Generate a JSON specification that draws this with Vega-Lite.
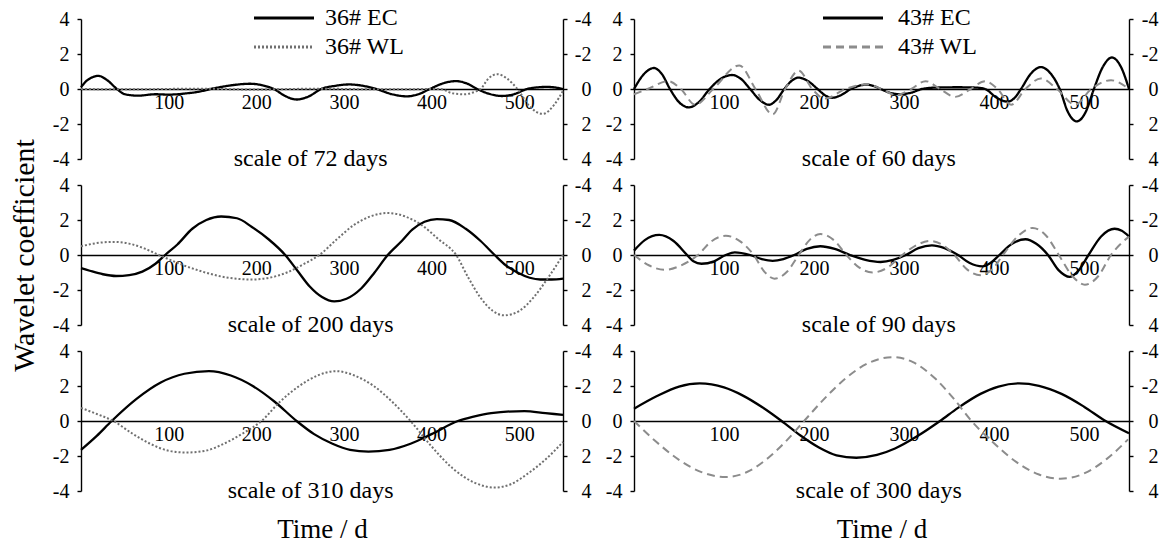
{
"$schema":"https://vega.github.io/schema/vega-lite/v6.json",
"background":"white",
"padding":{"left":9,"top":6,"right":2,"bottom":2},
"config":{
 "font":"Liberation Serif",
 "view":{"stroke":null},
 "axis":{"labelFont":"Liberation Serif","labelFontSize":20,"labelColor":"#000","domainColor":"#000","tickColor":"#000","domainWidth":1.4,"tickWidth":1.4,"grid":false,"titleFont":"Liberation Serif","titleFontWeight":"normal","titleColor":"#000"},
 "axisY":{"labelExpr":"datum.value < 0 ? '-' + abs(datum.value) : '' + datum.value"},
 "legend":{"labelFont":"Liberation Serif","labelFontSize":24,"labelColor":"#000","symbolType":"M-3,0H3","symbolSize":400,"symbolStrokeWidth":3,"rowPadding":5,"padding":0,"labelOffset":29},
 "text":{"font":"Liberation Serif","color":"#000"}
},
"datasets":{"w":[
{"p":"A","s":"E","t":0,"v":0.1},{"p":"A","s":"E","t":6,"v":0.45},{"p":"A","s":"E","t":12,"v":0.65},{"p":"A","s":"E","t":20,"v":0.75},{"p":"A","s":"E","t":30,"v":0.5},{"p":"A","s":"E","t":41,"v":0},{"p":"A","s":"E","t":50,"v":-0.3},{"p":"A","s":"E","t":65,"v":-0.38},{"p":"A","s":"E","t":85,"v":-0.3},{"p":"A","s":"E","t":100,"v":-0.32},{"p":"A","s":"E","t":120,"v":-0.25},{"p":"A","s":"E","t":135,"v":-0.15},{"p":"A","s":"E","t":148,"v":0},{"p":"A","s":"E","t":170,"v":0.2},{"p":"A","s":"E","t":193,"v":0.3},{"p":"A","s":"E","t":208,"v":0.2},{"p":"A","s":"E","t":220,"v":0},{"p":"A","s":"E","t":233,"v":-0.4},{"p":"A","s":"E","t":246,"v":-0.6},{"p":"A","s":"E","t":260,"v":-0.42},{"p":"A","s":"E","t":274,"v":0},{"p":"A","s":"E","t":290,"v":0.18},{"p":"A","s":"E","t":306,"v":0.26},{"p":"A","s":"E","t":322,"v":0.18},{"p":"A","s":"E","t":337,"v":0},{"p":"A","s":"E","t":355,"v":-0.3},{"p":"A","s":"E","t":372,"v":-0.42},{"p":"A","s":"E","t":385,"v":-0.3},{"p":"A","s":"E","t":398,"v":0},{"p":"A","s":"E","t":413,"v":0.32},{"p":"A","s":"E","t":428,"v":0.45},{"p":"A","s":"E","t":440,"v":0.32},{"p":"A","s":"E","t":452,"v":0},{"p":"A","s":"E","t":466,"v":-0.28},{"p":"A","s":"E","t":480,"v":-0.4},{"p":"A","s":"E","t":495,"v":-0.28},{"p":"A","s":"E","t":509,"v":0},{"p":"A","s":"E","t":520,"v":0.09},{"p":"A","s":"E","t":532,"v":0.12},{"p":"A","s":"E","t":542,"v":0.08},{"p":"A","s":"E","t":550,"v":0},
{"p":"A","s":"W","t":0,"v":0},{"p":"A","s":"W","t":60,"v":0.02},{"p":"A","s":"W","t":130,"v":-0.02},{"p":"A","s":"W","t":200,"v":0.03},{"p":"A","s":"W","t":270,"v":-0.02},{"p":"A","s":"W","t":340,"v":0.02},{"p":"A","s":"W","t":410,"v":0},{"p":"A","s":"W","t":424,"v":0.25},{"p":"A","s":"W","t":437,"v":0.3},{"p":"A","s":"W","t":450,"v":0.15},{"p":"A","s":"W","t":456,"v":0},{"p":"A","s":"W","t":465,"v":-0.6},{"p":"A","s":"W","t":475,"v":-0.85},{"p":"A","s":"W","t":486,"v":-0.6},{"p":"A","s":"W","t":498,"v":0},{"p":"A","s":"W","t":512,"v":1.0},{"p":"A","s":"W","t":527,"v":1.42},{"p":"A","s":"W","t":540,"v":0.9},{"p":"A","s":"W","t":550,"v":0.1},
{"p":"B","s":"E","t":0,"v":-0.75},{"p":"B","s":"E","t":10,"v":-0.9},{"p":"B","s":"E","t":25,"v":-1.1},{"p":"B","s":"E","t":40,"v":-1.2},{"p":"B","s":"E","t":55,"v":-1.15},{"p":"B","s":"E","t":70,"v":-0.95},{"p":"B","s":"E","t":85,"v":-0.5},{"p":"B","s":"E","t":96,"v":0},{"p":"B","s":"E","t":110,"v":0.6},{"p":"B","s":"E","t":127,"v":1.5},{"p":"B","s":"E","t":143,"v":2.0},{"p":"B","s":"E","t":160,"v":2.2},{"p":"B","s":"E","t":178,"v":2.1},{"p":"B","s":"E","t":195,"v":1.6},{"p":"B","s":"E","t":214,"v":0.9},{"p":"B","s":"E","t":233,"v":0},{"p":"B","s":"E","t":247,"v":-0.9},{"p":"B","s":"E","t":261,"v":-1.8},{"p":"B","s":"E","t":275,"v":-2.4},{"p":"B","s":"E","t":289,"v":-2.65},{"p":"B","s":"E","t":303,"v":-2.5},{"p":"B","s":"E","t":320,"v":-1.9},{"p":"B","s":"E","t":335,"v":-1.0},{"p":"B","s":"E","t":350,"v":0},{"p":"B","s":"E","t":366,"v":0.8},{"p":"B","s":"E","t":378,"v":1.45},{"p":"B","s":"E","t":392,"v":1.9},{"p":"B","s":"E","t":406,"v":2.05},{"p":"B","s":"E","t":420,"v":2.0},{"p":"B","s":"E","t":439,"v":1.5},{"p":"B","s":"E","t":456,"v":0.8},{"p":"B","s":"E","t":472,"v":0},{"p":"B","s":"E","t":485,"v":-0.6},{"p":"B","s":"E","t":498,"v":-1.0},{"p":"B","s":"E","t":512,"v":-1.3},{"p":"B","s":"E","t":524,"v":-1.4},{"p":"B","s":"E","t":537,"v":-1.4},{"p":"B","s":"E","t":550,"v":-1.35},
{"p":"B","s":"W","t":0,"v":-0.5},{"p":"B","s":"W","t":18,"v":-0.68},{"p":"B","s":"W","t":37,"v":-0.75},{"p":"B","s":"W","t":55,"v":-0.65},{"p":"B","s":"W","t":72,"v":-0.38},{"p":"B","s":"W","t":89,"v":0},{"p":"B","s":"W","t":115,"v":0.55},{"p":"B","s":"W","t":142,"v":1.0},{"p":"B","s":"W","t":168,"v":1.3},{"p":"B","s":"W","t":195,"v":1.4},{"p":"B","s":"W","t":215,"v":1.3},{"p":"B","s":"W","t":235,"v":1.0},{"p":"B","s":"W","t":253,"v":0.55},{"p":"B","s":"W","t":272,"v":0},{"p":"B","s":"W","t":292,"v":-0.9},{"p":"B","s":"W","t":311,"v":-1.7},{"p":"B","s":"W","t":330,"v":-2.2},{"p":"B","s":"W","t":350,"v":-2.4},{"p":"B","s":"W","t":370,"v":-2.2},{"p":"B","s":"W","t":389,"v":-1.7},{"p":"B","s":"W","t":408,"v":-0.9},{"p":"B","s":"W","t":428,"v":0},{"p":"B","s":"W","t":442,"v":1.3},{"p":"B","s":"W","t":456,"v":2.45},{"p":"B","s":"W","t":470,"v":3.2},{"p":"B","s":"W","t":483,"v":3.45},{"p":"B","s":"W","t":500,"v":3.2},{"p":"B","s":"W","t":516,"v":2.45},{"p":"B","s":"W","t":533,"v":1.3},{"p":"B","s":"W","t":550,"v":0},
{"p":"C","s":"E","t":0,"v":-1.65},{"p":"C","s":"E","t":18,"v":-0.85},{"p":"C","s":"E","t":35,"v":0},{"p":"C","s":"E","t":63,"v":1.25},{"p":"C","s":"E","t":91,"v":2.2},{"p":"C","s":"E","t":118,"v":2.7},{"p":"C","s":"E","t":146,"v":2.85},{"p":"C","s":"E","t":171,"v":2.6},{"p":"C","s":"E","t":196,"v":2.0},{"p":"C","s":"E","t":221,"v":1.1},{"p":"C","s":"E","t":246,"v":0},{"p":"C","s":"E","t":266,"v":-0.75},{"p":"C","s":"E","t":287,"v":-1.3},{"p":"C","s":"E","t":307,"v":-1.65},{"p":"C","s":"E","t":328,"v":-1.75},{"p":"C","s":"E","t":352,"v":-1.65},{"p":"C","s":"E","t":376,"v":-1.3},{"p":"C","s":"E","t":400,"v":-0.75},{"p":"C","s":"E","t":430,"v":0},{"p":"C","s":"E","t":448,"v":0.25},{"p":"C","s":"E","t":468,"v":0.45},{"p":"C","s":"E","t":506,"v":0.57},{"p":"C","s":"E","t":530,"v":0.45},{"p":"C","s":"E","t":550,"v":0.35},
{"p":"C","s":"W","t":0,"v":-0.75},{"p":"C","s":"W","t":18,"v":-0.4},{"p":"C","s":"W","t":37,"v":0},{"p":"C","s":"W","t":58,"v":0.7},{"p":"C","s":"W","t":79,"v":1.3},{"p":"C","s":"W","t":100,"v":1.7},{"p":"C","s":"W","t":120,"v":1.8},{"p":"C","s":"W","t":142,"v":1.7},{"p":"C","s":"W","t":163,"v":1.3},{"p":"C","s":"W","t":185,"v":0.7},{"p":"C","s":"W","t":206,"v":0},{"p":"C","s":"W","t":227,"v":-1.1},{"p":"C","s":"W","t":249,"v":-2.0},{"p":"C","s":"W","t":270,"v":-2.6},{"p":"C","s":"W","t":291,"v":-2.85},{"p":"C","s":"W","t":312,"v":-2.6},{"p":"C","s":"W","t":334,"v":-2.0},{"p":"C","s":"W","t":355,"v":-1.1},{"p":"C","s":"W","t":376,"v":0},{"p":"C","s":"W","t":400,"v":1.45},{"p":"C","s":"W","t":424,"v":2.7},{"p":"C","s":"W","t":448,"v":3.5},{"p":"C","s":"W","t":472,"v":3.8},{"p":"C","s":"W","t":491,"v":3.6},{"p":"C","s":"W","t":510,"v":3.0},{"p":"C","s":"W","t":530,"v":2.2},{"p":"C","s":"W","t":550,"v":1.2},
{"p":"D","s":"E","t":0,"v":0},{"p":"D","s":"E","t":11,"v":0.85},{"p":"D","s":"E","t":22,"v":1.2},{"p":"D","s":"E","t":31,"v":0.85},{"p":"D","s":"E","t":40,"v":0},{"p":"D","s":"E","t":50,"v":-0.75},{"p":"D","s":"E","t":61,"v":-1.05},{"p":"D","s":"E","t":72,"v":-0.75},{"p":"D","s":"E","t":84,"v":0},{"p":"D","s":"E","t":96,"v":0.57},{"p":"D","s":"E","t":109,"v":0.8},{"p":"D","s":"E","t":119,"v":0.57},{"p":"D","s":"E","t":129,"v":0},{"p":"D","s":"E","t":140,"v":-0.64},{"p":"D","s":"E","t":150,"v":-0.9},{"p":"D","s":"E","t":158,"v":-0.64},{"p":"D","s":"E","t":167,"v":0},{"p":"D","s":"E","t":175,"v":0.46},{"p":"D","s":"E","t":183,"v":0.65},{"p":"D","s":"E","t":193,"v":0.46},{"p":"D","s":"E","t":204,"v":0},{"p":"D","s":"E","t":212,"v":-0.35},{"p":"D","s":"E","t":220,"v":-0.5},{"p":"D","s":"E","t":230,"v":-0.35},{"p":"D","s":"E","t":241,"v":0},{"p":"D","s":"E","t":250,"v":0.18},{"p":"D","s":"E","t":258,"v":0.25},{"p":"D","s":"E","t":266,"v":0.18},{"p":"D","s":"E","t":274,"v":0},{"p":"D","s":"E","t":284,"v":-0.21},{"p":"D","s":"E","t":295,"v":-0.3},{"p":"D","s":"E","t":308,"v":-0.21},{"p":"D","s":"E","t":320,"v":0},{"p":"D","s":"E","t":335,"v":0.08},{"p":"D","s":"E","t":360,"v":0.1},{"p":"D","s":"E","t":380,"v":0.08},{"p":"D","s":"E","t":390,"v":0},{"p":"D","s":"E","t":403,"v":-0.5},{"p":"D","s":"E","t":415,"v":-0.72},{"p":"D","s":"E","t":423,"v":-0.5},{"p":"D","s":"E","t":430,"v":0},{"p":"D","s":"E","t":441,"v":0.88},{"p":"D","s":"E","t":452,"v":1.25},{"p":"D","s":"E","t":463,"v":0.88},{"p":"D","s":"E","t":473,"v":0},{"p":"D","s":"E","t":482,"v":-1.3},{"p":"D","s":"E","t":492,"v":-1.85},{"p":"D","s":"E","t":502,"v":-1.3},{"p":"D","s":"E","t":511,"v":0},{"p":"D","s":"E","t":521,"v":1.27},{"p":"D","s":"E","t":531,"v":1.8},{"p":"D","s":"E","t":541,"v":1.27},{"p":"D","s":"E","t":550,"v":0},
{"p":"D","s":"W","t":0,"v":0.3},{"p":"D","s":"W","t":15,"v":0},{"p":"D","s":"W","t":38,"v":-0.45},{"p":"D","s":"W","t":52,"v":0},{"p":"D","s":"W","t":68,"v":0.9},{"p":"D","s":"W","t":88,"v":0},{"p":"D","s":"W","t":117,"v":-1.35},{"p":"D","s":"W","t":135,"v":0},{"p":"D","s":"W","t":154,"v":1.45},{"p":"D","s":"W","t":168,"v":0},{"p":"D","s":"W","t":183,"v":-1.05},{"p":"D","s":"W","t":198,"v":0},{"p":"D","s":"W","t":212,"v":0.55},{"p":"D","s":"W","t":235,"v":0},{"p":"D","s":"W","t":258,"v":-0.27},{"p":"D","s":"W","t":275,"v":0},{"p":"D","s":"W","t":291,"v":0.35},{"p":"D","s":"W","t":308,"v":0},{"p":"D","s":"W","t":324,"v":-0.45},{"p":"D","s":"W","t":340,"v":0},{"p":"D","s":"W","t":357,"v":0.45},{"p":"D","s":"W","t":374,"v":0},{"p":"D","s":"W","t":390,"v":-0.45},{"p":"D","s":"W","t":404,"v":0},{"p":"D","s":"W","t":419,"v":0.9},{"p":"D","s":"W","t":435,"v":0},{"p":"D","s":"W","t":452,"v":-0.6},{"p":"D","s":"W","t":470,"v":0},{"p":"D","s":"W","t":490,"v":0.9},{"p":"D","s":"W","t":508,"v":0},{"p":"D","s":"W","t":530,"v":-0.5},{"p":"D","s":"W","t":550,"v":0},
{"p":"E","s":"E","t":0,"v":0.25},{"p":"E","s":"E","t":12,"v":0.85},{"p":"E","s":"E","t":28,"v":1.15},{"p":"E","s":"E","t":44,"v":0.8},{"p":"E","s":"E","t":59,"v":0},{"p":"E","s":"E","t":66,"v":-0.36},{"p":"E","s":"E","t":75,"v":-0.5},{"p":"E","s":"E","t":89,"v":-0.36},{"p":"E","s":"E","t":102,"v":0},{"p":"E","s":"E","t":112,"v":0.15},{"p":"E","s":"E","t":129,"v":0},{"p":"E","s":"E","t":142,"v":-0.23},{"p":"E","s":"E","t":154,"v":-0.33},{"p":"E","s":"E","t":166,"v":-0.23},{"p":"E","s":"E","t":178,"v":0},{"p":"E","s":"E","t":192,"v":0.35},{"p":"E","s":"E","t":207,"v":0.5},{"p":"E","s":"E","t":223,"v":0.35},{"p":"E","s":"E","t":240,"v":0},{"p":"E","s":"E","t":257,"v":-0.28},{"p":"E","s":"E","t":274,"v":-0.4},{"p":"E","s":"E","t":288,"v":-0.28},{"p":"E","s":"E","t":302,"v":0},{"p":"E","s":"E","t":316,"v":0.39},{"p":"E","s":"E","t":331,"v":0.55},{"p":"E","s":"E","t":345,"v":0.39},{"p":"E","s":"E","t":360,"v":0},{"p":"E","s":"E","t":373,"v":-0.46},{"p":"E","s":"E","t":387,"v":-0.65},{"p":"E","s":"E","t":396,"v":-0.46},{"p":"E","s":"E","t":406,"v":0},{"p":"E","s":"E","t":420,"v":0.64},{"p":"E","s":"E","t":435,"v":0.9},{"p":"E","s":"E","t":447,"v":0.64},{"p":"E","s":"E","t":460,"v":0},{"p":"E","s":"E","t":472,"v":-0.88},{"p":"E","s":"E","t":484,"v":-1.25},{"p":"E","s":"E","t":494,"v":-0.88},{"p":"E","s":"E","t":505,"v":0},{"p":"E","s":"E","t":519,"v":1.06},{"p":"E","s":"E","t":534,"v":1.5},{"p":"E","s":"E","t":542,"v":1.38},{"p":"E","s":"E","t":550,"v":1.05},
{"p":"E","s":"W","t":0,"v":0},{"p":"E","s":"W","t":17,"v":0.6},{"p":"E","s":"W","t":34,"v":0.85},{"p":"E","s":"W","t":52,"v":0.6},{"p":"E","s":"W","t":71,"v":0},{"p":"E","s":"W","t":86,"v":-0.78},{"p":"E","s":"W","t":102,"v":-1.1},{"p":"E","s":"W","t":118,"v":-0.78},{"p":"E","s":"W","t":133,"v":0},{"p":"E","s":"W","t":145,"v":0.96},{"p":"E","s":"W","t":156,"v":1.35},{"p":"E","s":"W","t":170,"v":0.96},{"p":"E","s":"W","t":183,"v":0},{"p":"E","s":"W","t":195,"v":-0.85},{"p":"E","s":"W","t":207,"v":-1.2},{"p":"E","s":"W","t":222,"v":-0.85},{"p":"E","s":"W","t":236,"v":0},{"p":"E","s":"W","t":250,"v":0.71},{"p":"E","s":"W","t":265,"v":1.0},{"p":"E","s":"W","t":282,"v":0.71},{"p":"E","s":"W","t":298,"v":0},{"p":"E","s":"W","t":314,"v":-0.57},{"p":"E","s":"W","t":329,"v":-0.8},{"p":"E","s":"W","t":343,"v":-0.57},{"p":"E","s":"W","t":356,"v":0},{"p":"E","s":"W","t":370,"v":0.82},{"p":"E","s":"W","t":385,"v":1.15},{"p":"E","s":"W","t":398,"v":0.82},{"p":"E","s":"W","t":410,"v":0},{"p":"E","s":"W","t":427,"v":-1.1},{"p":"E","s":"W","t":443,"v":-1.55},{"p":"E","s":"W","t":458,"v":-1.1},{"p":"E","s":"W","t":472,"v":0},{"p":"E","s":"W","t":487,"v":1.2},{"p":"E","s":"W","t":501,"v":1.7},{"p":"E","s":"W","t":516,"v":1.2},{"p":"E","s":"W","t":530,"v":0},{"p":"E","s":"W","t":540,"v":-0.6},{"p":"E","s":"W","t":550,"v":-1.05},
{"p":"F","s":"E","t":0,"v":0.7},{"p":"F","s":"E","t":25,"v":1.41},{"p":"F","s":"E","t":50,"v":1.97},{"p":"F","s":"E","t":73,"v":2.15},{"p":"F","s":"E","t":100,"v":1.92},{"p":"F","s":"E","t":120,"v":1.48},{"p":"F","s":"E","t":143,"v":0.77},{"p":"F","s":"E","t":164,"v":0},{"p":"F","s":"E","t":185,"v":-0.83},{"p":"F","s":"E","t":205,"v":-1.5},{"p":"F","s":"E","t":225,"v":-1.96},{"p":"F","s":"E","t":247,"v":-2.1},{"p":"F","s":"E","t":270,"v":-1.94},{"p":"F","s":"E","t":290,"v":-1.57},{"p":"F","s":"E","t":315,"v":-0.86},{"p":"F","s":"E","t":340,"v":0},{"p":"F","s":"E","t":360,"v":0.75},{"p":"F","s":"E","t":385,"v":1.55},{"p":"F","s":"E","t":405,"v":1.97},{"p":"F","s":"E","t":428,"v":2.15},{"p":"F","s":"E","t":450,"v":2.01},{"p":"F","s":"E","t":475,"v":1.55},{"p":"F","s":"E","t":500,"v":0.82},{"p":"F","s":"E","t":524,"v":0},{"p":"F","s":"E","t":550,"v":-0.7},
{"p":"F","s":"W","t":0,"v":0},{"p":"F","s":"W","t":25,"v":1.2},{"p":"F","s":"W","t":50,"v":2.22},{"p":"F","s":"W","t":75,"v":2.92},{"p":"F","s":"W","t":102,"v":3.2},{"p":"F","s":"W","t":125,"v":2.93},{"p":"F","s":"W","t":150,"v":2.07},{"p":"F","s":"W","t":170,"v":1.09},{"p":"F","s":"W","t":189,"v":0},{"p":"F","s":"W","t":210,"v":-1.19},{"p":"F","s":"W","t":235,"v":-2.43},{"p":"F","s":"W","t":260,"v":-3.3},{"p":"F","s":"W","t":288,"v":-3.65},{"p":"F","s":"W","t":310,"v":-3.36},{"p":"F","s":"W","t":335,"v":-2.41},{"p":"F","s":"W","t":355,"v":-1.29},{"p":"F","s":"W","t":375,"v":0},{"p":"F","s":"W","t":400,"v":1.27},{"p":"F","s":"W","t":425,"v":2.35},{"p":"F","s":"W","t":450,"v":3.06},{"p":"F","s":"W","t":474,"v":3.3},{"p":"F","s":"W","t":500,"v":3.0},{"p":"F","s":"W","t":525,"v":2.18},{"p":"F","s":"W","t":549,"v":1.05}
]},
"data":{"name":"w"},
"columns":2,
"align":"each",
"bounds":"flush",
"spacing":{"row":26,"column":71},
"resolve":{"scale":{"color":"independent","strokeDash":"independent"}},
"concat":[
{"width":482,"height":140,"resolve":{"scale":{"y":"independent"}},"layer":[
 {"transform":[{"filter":"datum.p=='A'&&datum.s=='E'"}],"mark":{"type":"line","interpolate":"monotone","strokeWidth":2.3},
  "encoding":{
   "x":{"field":"t","type":"quantitative","scale":{"domain":[0,550],"nice":false},"axis":{"orient":"bottom","offset":-70,"values":[100,200,300,400,500],"ticks":false,"labelPadding":3,"title":null}},
   "y":{"field":"v","type":"quantitative","scale":{"domain":[-4,4],"nice":false},"axis":{"orient":"left","values":[-4,-2,0,2,4],"tickSize":4,"labelPadding":8,"title":null}},
   "color":{"datum":"36# EC","scale":{"domain":["36# EC","36# WL"],"range":["#000000","#707070"]},"legend":{"orient":"none","legendX":191,"legendY":-13,"title":null}},
   "strokeDash":{"datum":"36# EC","scale":{"domain":["36# EC","36# WL"],"range":[[1,0],[2,2]]},"legend":{"orient":"none","legendX":191,"legendY":-13,"title":null}}}},
 {"transform":[{"filter":"datum.p=='A'&&datum.s=='W'"}],"mark":{"type":"line","interpolate":"monotone","strokeWidth":2},
  "encoding":{
   "x":{"field":"t","type":"quantitative"},
   "y":{"field":"v","type":"quantitative","scale":{"domain":[-4,4],"nice":false,"reverse":true},"axis":{"orient":"right","values":[-4,-2,0,2,4],"tickSize":4,"labelPadding":24,"labelAlign":"right","title":null}},
   "color":{"datum":"36# WL"},"strokeDash":{"datum":"36# WL"}}},
 {"data":{"values":[{"label":"scale of 72 days"}]},"mark":{"type":"text","fontSize":24,"baseline":"middle"},
  "encoding":{"x":{"datum":262},"y":{"datum":-4,"scale":{"domain":[-4,4],"nice":false},"axis":null},"text":{"field":"label"}}}
]},
{"width":495,"height":140,"resolve":{"scale":{"y":"independent"}},"layer":[
 {"transform":[{"filter":"datum.p=='D'&&datum.s=='E'"}],"mark":{"type":"line","interpolate":"monotone","strokeWidth":2.3},
  "encoding":{
   "x":{"field":"t","type":"quantitative","scale":{"domain":[0,550],"nice":false},"axis":{"orient":"bottom","offset":-70,"values":[100,200,300,400,500],"ticks":false,"labelPadding":3,"title":null}},
   "y":{"field":"v","type":"quantitative","scale":{"domain":[-4,4],"nice":false},"axis":{"orient":"left","values":[-4,-2,0,2,4],"tickSize":4,"labelPadding":8,"title":null}},
   "color":{"datum":"43# EC","scale":{"domain":["43# EC","43# WL"],"range":["#000000","#8c8c8c"]},"legend":{"orient":"none","legendX":207,"legendY":-13,"title":null,"labelOffset":33}},
   "strokeDash":{"datum":"43# EC","scale":{"domain":["43# EC","43# WL"],"range":[[1,0],[8,5]]},"legend":{"orient":"none","legendX":207,"legendY":-13,"title":null,"labelOffset":33}}}},
 {"transform":[{"filter":"datum.p=='D'&&datum.s=='W'"}],"mark":{"type":"line","interpolate":"monotone","strokeWidth":2},
  "encoding":{
   "x":{"field":"t","type":"quantitative"},
   "y":{"field":"v","type":"quantitative","scale":{"domain":[-4,4],"nice":false,"reverse":true},"axis":{"orient":"right","values":[-4,-2,0,2,4],"tickSize":4,"labelPadding":25,"labelAlign":"right","title":null}},
   "color":{"datum":"43# WL"},"strokeDash":{"datum":"43# WL"}}},
 {"data":{"values":[{"label":"scale of 60 days"}]},"mark":{"type":"text","fontSize":24,"baseline":"middle"},
  "encoding":{"x":{"datum":272},"y":{"datum":-4,"scale":{"domain":[-4,4],"nice":false},"axis":null},"text":{"field":"label"}}}
]},
{"width":482,"height":140,"resolve":{"scale":{"y":"independent"}},"layer":[
 {"transform":[{"filter":"datum.p=='B'&&datum.s=='E'"}],"mark":{"type":"line","interpolate":"monotone","strokeWidth":2.3,"color":"#000"},
  "encoding":{
   "x":{"field":"t","type":"quantitative","scale":{"domain":[0,550],"nice":false},"axis":{"orient":"bottom","offset":-70,"values":[100,200,300,400,500],"ticks":false,"labelPadding":3,"title":null}},
   "y":{"field":"v","type":"quantitative","scale":{"domain":[-4,4],"nice":false},"axis":{"orient":"left","values":[-4,-2,0,2,4],"tickSize":4,"labelPadding":8,"title":"Wavelet coefficient","titleFontSize":30,"titlePadding":13}}}},
 {"transform":[{"filter":"datum.p=='B'&&datum.s=='W'"}],"mark":{"type":"line","interpolate":"monotone","strokeWidth":2,"color":"#707070","strokeDash":[2,2]},
  "encoding":{
   "x":{"field":"t","type":"quantitative"},
   "y":{"field":"v","type":"quantitative","scale":{"domain":[-4,4],"nice":false,"reverse":true},"axis":{"orient":"right","values":[-4,-2,0,2,4],"tickSize":4,"labelPadding":24,"labelAlign":"right","title":null}}}},
 {"data":{"values":[{"label":"scale of 200 days"}]},"mark":{"type":"text","fontSize":24,"baseline":"middle"},
  "encoding":{"x":{"datum":262},"y":{"datum":-4,"scale":{"domain":[-4,4],"nice":false},"axis":null},"text":{"field":"label"}}}
]},
{"width":495,"height":140,"resolve":{"scale":{"y":"independent"}},"layer":[
 {"transform":[{"filter":"datum.p=='E'&&datum.s=='E'"}],"mark":{"type":"line","interpolate":"monotone","strokeWidth":2.3,"color":"#000"},
  "encoding":{
   "x":{"field":"t","type":"quantitative","scale":{"domain":[0,550],"nice":false},"axis":{"orient":"bottom","offset":-70,"values":[100,200,300,400,500],"ticks":false,"labelPadding":3,"title":null}},
   "y":{"field":"v","type":"quantitative","scale":{"domain":[-4,4],"nice":false},"axis":{"orient":"left","values":[-4,-2,0,2,4],"tickSize":4,"labelPadding":8,"title":null}}}},
 {"transform":[{"filter":"datum.p=='E'&&datum.s=='W'"}],"mark":{"type":"line","interpolate":"monotone","strokeWidth":2,"color":"#8c8c8c","strokeDash":[8,5]},
  "encoding":{
   "x":{"field":"t","type":"quantitative"},
   "y":{"field":"v","type":"quantitative","scale":{"domain":[-4,4],"nice":false,"reverse":true},"axis":{"orient":"right","values":[-4,-2,0,2,4],"tickSize":4,"labelPadding":25,"labelAlign":"right","title":null}}}},
 {"data":{"values":[{"label":"scale of 90 days"}]},"mark":{"type":"text","fontSize":24,"baseline":"middle"},
  "encoding":{"x":{"datum":272},"y":{"datum":-4,"scale":{"domain":[-4,4],"nice":false},"axis":null},"text":{"field":"label"}}}
]},
{"width":482,"height":140,"resolve":{"scale":{"y":"independent"}},"layer":[
 {"transform":[{"filter":"datum.p=='C'&&datum.s=='E'"}],"mark":{"type":"line","interpolate":"monotone","strokeWidth":2.3,"color":"#000"},
  "encoding":{
   "x":{"field":"t","type":"quantitative","scale":{"domain":[0,550],"nice":false},"axis":{"orient":"bottom","offset":-70,"values":[100,200,300,400,500],"ticks":false,"labelPadding":3,"title":"Time / d","titleFontSize":27,"titlePadding":72}},
   "y":{"field":"v","type":"quantitative","scale":{"domain":[-4,4],"nice":false},"axis":{"orient":"left","values":[-4,-2,0,2,4],"tickSize":4,"labelPadding":8,"title":null}}}},
 {"transform":[{"filter":"datum.p=='C'&&datum.s=='W'"}],"mark":{"type":"line","interpolate":"monotone","strokeWidth":2,"color":"#707070","strokeDash":[2,2]},
  "encoding":{
   "x":{"field":"t","type":"quantitative"},
   "y":{"field":"v","type":"quantitative","scale":{"domain":[-4,4],"nice":false,"reverse":true},"axis":{"orient":"right","values":[-4,-2,0,2,4],"tickSize":4,"labelPadding":24,"labelAlign":"right","title":null}}}},
 {"data":{"values":[{"label":"scale of 310 days"}]},"mark":{"type":"text","fontSize":24,"baseline":"middle"},
  "encoding":{"x":{"datum":262},"y":{"datum":-4,"scale":{"domain":[-4,4],"nice":false},"axis":null},"text":{"field":"label"}}}
]},
{"width":495,"height":140,"resolve":{"scale":{"y":"independent"}},"layer":[
 {"transform":[{"filter":"datum.p=='F'&&datum.s=='E'"}],"mark":{"type":"line","interpolate":"monotone","strokeWidth":2.3,"color":"#000"},
  "encoding":{
   "x":{"field":"t","type":"quantitative","scale":{"domain":[0,550],"nice":false},"axis":{"orient":"bottom","offset":-70,"values":[100,200,300,400,500],"ticks":false,"labelPadding":3,"title":"Time / d","titleFontSize":27,"titlePadding":72}},
   "y":{"field":"v","type":"quantitative","scale":{"domain":[-4,4],"nice":false},"axis":{"orient":"left","values":[-4,-2,0,2,4],"tickSize":4,"labelPadding":8,"title":null}}}},
 {"transform":[{"filter":"datum.p=='F'&&datum.s=='W'"}],"mark":{"type":"line","interpolate":"monotone","strokeWidth":2,"color":"#8c8c8c","strokeDash":[8,5]},
  "encoding":{
   "x":{"field":"t","type":"quantitative"},
   "y":{"field":"v","type":"quantitative","scale":{"domain":[-4,4],"nice":false,"reverse":true},"axis":{"orient":"right","values":[-4,-2,0,2,4],"tickSize":4,"labelPadding":25,"labelAlign":"right","title":null}}}},
 {"data":{"values":[{"label":"scale of 300 days"}]},"mark":{"type":"text","fontSize":24,"baseline":"middle"},
  "encoding":{"x":{"datum":272},"y":{"datum":-4,"scale":{"domain":[-4,4],"nice":false},"axis":null},"text":{"field":"label"}}}
]}
]
}
